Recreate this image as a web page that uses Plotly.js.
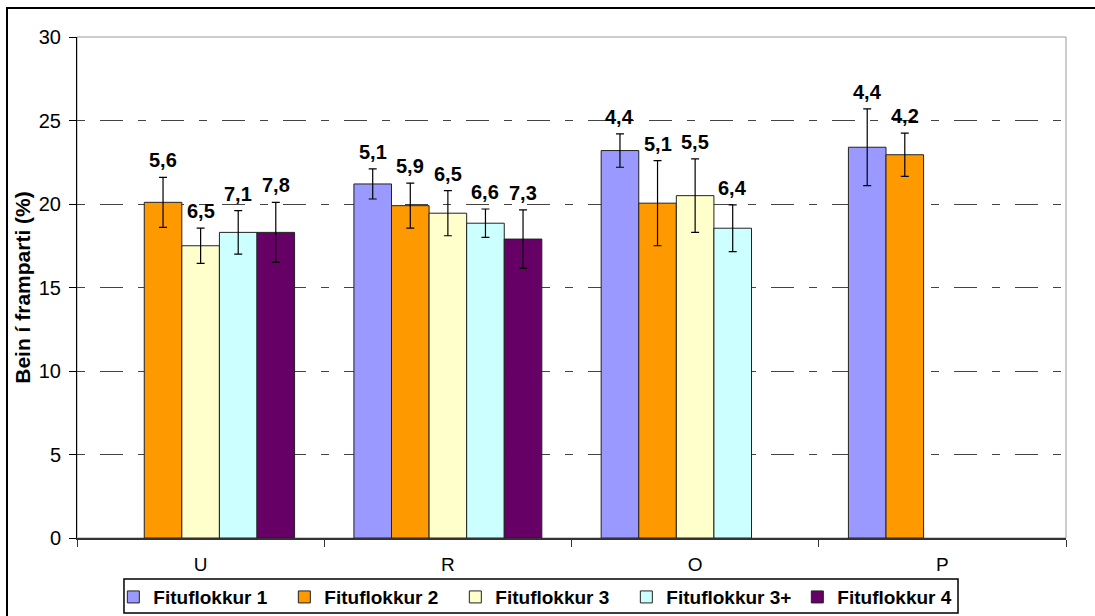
<!DOCTYPE html>
<html>
<head>
<meta charset="utf-8">
<script src="https://cdn.plot.ly/plotly-3.0.1.min.js"></script>
<style>
  html, body { margin: 0; padding: 0; background: #fff; }
  #wrap { position: relative; width: 1095px; height: 616px; overflow: hidden; }
  #chart { position: absolute; left: 0; top: 0; width: 1095px; height: 616px; }
  #frame { position: absolute; left: 6px; top: 7px; width: 1200px; height: 700px;
           border-top: 2px solid #000; border-left: 2px solid #000; pointer-events: none; }
</style>
</head>
<body>
<div id="wrap"><div id="chart"></div><div id="frame"></div></div>
<script>
// ---- data ----
const categories = ['U', 'R', 'O', 'P'];
const seriesNames = ['Fituflokkur 1', 'Fituflokkur 2', 'Fituflokkur 3', 'Fituflokkur 3+', 'Fituflokkur 4'];

const values1  = [null, 21.2, 23.2, 23.4];
const values2  = [20.1, 19.9, 20.05, 22.95];
const values3  = [17.5, 19.45, 20.5, null];
const values3p = [18.3, 18.85, 18.55, null];
const values4  = [18.3, 17.9, null, null];

const errors1  = [null, 0.9, 1.0, 2.3];
const errors2  = [1.5, 1.35, 2.55, 1.3];
const errors3  = [1.05, 1.35, 2.2, null];
const errors3p = [1.3, 0.85, 1.4, null];
const errors4  = [1.8, 1.75, null, null];

const labels1  = [null, 5.1, 4.4, 4.4];
const labels2  = [5.6, 5.9, 5.1, 4.2];
const labels3  = [6.5, 6.5, 5.5, null];
const labels3p = [7.1, 6.6, 6.4, null];
const labels4  = [7.8, 7.3, null, null];

const yTicks = [0, 5, 10, 15, 20, 25, 30];

// ---- style ----
const colors = ['#9999FF', '#FF9900', '#FFFFCC', '#CCFFFF', '#660066'];
const FONT = 'Liberation Sans, Arial, sans-serif';
const BARGAP = 0.24;

const allValues = [values1, values2, values3, values3p, values4];
const allErrors = [errors1, errors2, errors3, errors3p, errors4];
const allLabels = [labels1, labels2, labels3, labels3p, labels4];

const traces = allValues.map((vals, i) => ({
  type: 'bar',
  name: seriesNames[i],
  x: categories,
  y: vals,
  marker: { color: colors[i], line: { color: '#222', width: 1 } },
  error_y: { type: 'data', array: allErrors[i], visible: true, color: '#000', thickness: 1.2, width: 4 },
  hoverinfo: 'skip'
}));

const n = allValues.length;
const barW = (1 - BARGAP) / n;
const annotations = [];
allValues.forEach((vals, i) => {
  vals.forEach((v, c) => {
    if (v === null || allLabels[i][c] === null) return;
    annotations.push({
      x: c + (i - (n - 1) / 2) * barW,
      y: v + allErrors[i][c],
      xref: 'x', yref: 'y',
      text: allLabels[i][c].toFixed(1).replace('.', ','),
      showarrow: false,
      yanchor: 'middle',
      yshift: 17,
      font: { family: FONT, size: 20, color: '#000', weight: 'bold' }
    });
  });
});

const layout = {
  width: 1095, height: 616,
  margin: { l: 77, r: 29, t: 37, b: 78, autoexpand: false },
  paper_bgcolor: '#fff', plot_bgcolor: '#fff',
  barmode: 'group',
  bargap: BARGAP,
  bargroupgap: 0,
  showlegend: true,
  font: { family: FONT, color: '#000' },
  xaxis: {
    type: 'category',
    categoryarray: categories,
    tickson: 'boundaries',
    ticks: 'outside', ticklen: 7, tickcolor: '#333', tickwidth: 1,
    ticklabelstandoff: 9,
    showline: true, linecolor: '#333', linewidth: 1.5,
    showgrid: false, zeroline: false,
    tickfont: { family: FONT, size: 19, color: '#000' },
    automargin: false,
    fixedrange: true
  },
  yaxis: {
    range: [0, 30],
    tickvals: yTicks,
    ticktext: yTicks.map(String),
    ticks: 'outside', ticklen: 7, tickcolor: '#000', tickwidth: 1,
    ticklabelstandoff: 4,
    showline: true, linecolor: '#000', linewidth: 1,
    showgrid: true, gridcolor: '#444', gridwidth: 1, griddash: '8px,15px,23px,15px',
    zeroline: false,
    tickfont: { family: FONT, size: 20, color: '#000' },
    title: { text: 'Bein í framparti (%)', font: { family: FONT, size: 21, color: '#000', weight: 'bold' }, standoff: 2 },
    automargin: false,
    fixedrange: true
  },
  legend: {
    orientation: 'h',
    x: 0.469, xanchor: 'center',
    y: -0.080, yanchor: 'top',
    borderwidth: 0,
    bgcolor: 'rgba(0,0,0,0)',
    entrywidth: 126,
    font: { family: FONT, size: 19, color: '#000', weight: 'bold' },
    traceorder: 'normal',
    itemclick: false, itemdoubleclick: false
  },
  shapes: [
    { type: 'rect', xref: 'paper', yref: 'paper', x0: 0, x1: 1, y0: 0, y1: 1,
      line: { color: '#999', width: 1 }, layer: 'below' },
    { type: 'rect', xref: 'paper', yref: 'paper', x0: 0.0475, x1: 0.8908, y0: -0.0818, y1: -0.1497,
      line: { color: '#000', width: 1.5 }, fillcolor: 'rgba(0,0,0,0)', layer: 'above' }
  ],
  annotations: annotations
};

Plotly.newPlot('chart', traces, layout, { displayModeBar: false, staticPlot: true });
</script>
</body>
</html>
